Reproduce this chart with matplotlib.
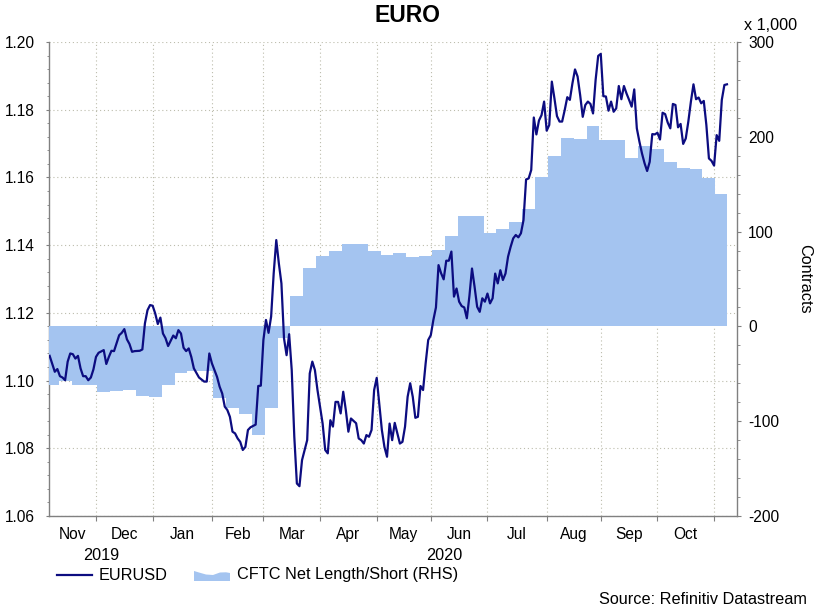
import numpy as np
import matplotlib
matplotlib.use('Agg')
import matplotlib.pyplot as plt
from matplotlib.lines import Line2D
from matplotlib.patches import Polygon

plt.rcParams['font.family'] = ['Liberation Sans', 'DejaVu Sans']
plt.rcParams['axes.unicode_minus'] = False

# EURUSD 日度收盘
eur_dates = [
    '2019-11-06', '2019-11-08', '2019-11-11', '2019-11-12', '2019-11-13', '2019-11-14', '2019-11-15',
    '2019-11-18', '2019-11-19', '2019-11-20', '2019-11-21', '2019-11-22', '2019-11-25', '2019-11-26',
    '2019-11-27', '2019-11-28', '2019-11-29',
    '2019-12-02', '2019-12-03', '2019-12-05', '2019-12-06', '2019-12-09', '2019-12-10', '2019-12-11',
    '2019-12-12', '2019-12-13', '2019-12-16', '2019-12-17', '2019-12-18', '2019-12-19', '2019-12-20',
    '2019-12-23', '2019-12-25', '2019-12-26', '2019-12-27', '2019-12-30', '2019-12-31',
    '2020-01-01', '2020-01-02', '2020-01-03', '2020-01-06', '2020-01-07', '2020-01-08', '2020-01-09',
    '2020-01-13', '2020-01-14', '2020-01-15', '2020-01-16', '2020-01-17', '2020-01-20', '2020-01-21',
    '2020-01-22', '2020-01-23', '2020-01-27', '2020-01-29', '2020-01-30', '2020-01-31',
    '2020-02-03', '2020-02-05', '2020-02-06', '2020-02-07', '2020-02-10', '2020-02-11', '2020-02-12',
    '2020-02-13', '2020-02-14', '2020-02-17', '2020-02-18', '2020-02-19', '2020-02-20', '2020-02-21',
    '2020-02-24', '2020-02-25', '2020-02-26', '2020-02-27', '2020-02-28',
    '2020-03-02', '2020-03-03', '2020-03-04', '2020-03-05', '2020-03-06', '2020-03-09', '2020-03-10',
    '2020-03-11', '2020-03-12', '2020-03-13', '2020-03-16', '2020-03-17', '2020-03-18', '2020-03-19',
    '2020-03-20', '2020-03-23', '2020-03-24', '2020-03-25', '2020-03-26', '2020-03-27', '2020-03-30',
    '2020-03-31',
    '2020-04-02', '2020-04-03', '2020-04-06', '2020-04-07', '2020-04-08', '2020-04-09', '2020-04-10',
    '2020-04-13', '2020-04-14', '2020-04-15', '2020-04-16', '2020-04-17', '2020-04-21', '2020-04-22',
    '2020-04-23', '2020-04-24', '2020-04-27', '2020-04-28', '2020-04-29', '2020-04-30',
    '2020-05-01', '2020-05-04', '2020-05-05', '2020-05-06', '2020-05-07', '2020-05-08', '2020-05-11',
    '2020-05-12', '2020-05-13', '2020-05-14', '2020-05-15', '2020-05-18', '2020-05-19', '2020-05-20',
    '2020-05-21', '2020-05-22', '2020-05-25', '2020-05-26', '2020-05-27', '2020-05-28', '2020-05-29',
    '2020-06-01', '2020-06-02', '2020-06-03', '2020-06-04', '2020-06-05', '2020-06-08', '2020-06-09',
    '2020-06-10', '2020-06-11', '2020-06-12', '2020-06-15', '2020-06-16', '2020-06-17', '2020-06-18',
    '2020-06-19', '2020-06-22', '2020-06-23', '2020-06-24', '2020-06-25', '2020-06-26', '2020-06-29',
    '2020-06-30',
    '2020-07-01', '2020-07-02', '2020-07-03', '2020-07-06', '2020-07-07', '2020-07-08', '2020-07-09',
    '2020-07-10', '2020-07-13', '2020-07-14', '2020-07-15', '2020-07-16', '2020-07-17', '2020-07-20',
    '2020-07-21', '2020-07-22', '2020-07-23', '2020-07-24', '2020-07-27', '2020-07-28', '2020-07-29',
    '2020-07-30', '2020-07-31',
    '2020-08-03', '2020-08-04', '2020-08-05', '2020-08-06', '2020-08-07', '2020-08-10', '2020-08-11',
    '2020-08-12', '2020-08-13', '2020-08-14', '2020-08-17', '2020-08-18', '2020-08-19', '2020-08-20',
    '2020-08-21', '2020-08-24', '2020-08-25', '2020-08-26', '2020-08-27', '2020-08-28', '2020-08-31',
    '2020-09-01', '2020-09-02', '2020-09-03', '2020-09-04', '2020-09-07', '2020-09-08', '2020-09-09',
    '2020-09-10', '2020-09-11', '2020-09-14', '2020-09-15', '2020-09-16', '2020-09-17', '2020-09-18',
    '2020-09-21', '2020-09-22', '2020-09-23', '2020-09-24', '2020-09-25', '2020-09-28', '2020-09-29',
    '2020-09-30',
    '2020-10-01', '2020-10-02', '2020-10-05', '2020-10-06', '2020-10-07', '2020-10-08', '2020-10-09',
    '2020-10-12', '2020-10-13', '2020-10-14', '2020-10-15', '2020-10-16', '2020-10-19', '2020-10-20',
    '2020-10-21', '2020-10-22', '2020-10-23', '2020-10-26', '2020-10-27', '2020-10-28', '2020-10-29',
    '2020-10-30',
    '2020-11-02', '2020-11-03', '2020-11-04', '2020-11-05', '2020-11-06', '2020-11-09',
]
eur_vals = [
    1.1073, 1.1026, 1.1034, 1.1013, 1.1009, 1.1001, 1.1056,
    1.1080, 1.1078, 1.1065, 1.1073, 1.1036, 1.1013, 1.1013,
    1.1001, 1.1009, 1.1033,
    1.1070, 1.1082, 1.1090, 1.1049, 1.1070, 1.1088, 1.1087,
    1.1110, 1.1134, 1.1141, 1.1152, 1.1122, 1.1108, 1.1085,
    1.1087, 1.1088, 1.1092, 1.1169, 1.1208, 1.1223,
    1.1221, 1.1198, 1.1167, 1.1186, 1.1139, 1.1125, 1.1102,
    1.1133, 1.1125, 1.1149, 1.1139, 1.1097, 1.1087, 1.1095,
    1.1070, 1.1036, 1.1009, 1.0997, 1.0997, 1.1080,
    1.1051, 1.1011, 1.0982, 1.0962, 1.0923, 1.0913, 1.0893,
    1.0849, 1.0844, 1.0829, 1.0819, 1.0795, 1.0804, 1.0854,
    1.0862, 1.0866, 1.0870, 1.0984, 1.0985,
    1.1120, 1.1179, 1.1141, 1.1189, 1.1317, 1.1415, 1.1346,
    1.1287, 1.1125, 1.1075, 1.1137, 1.1031, 1.0834, 1.0696,
    1.0688, 1.0765, 1.0795, 1.0824, 1.1021, 1.1056, 1.1031,
    1.0972,
    1.0873, 1.0795, 1.0785, 1.0883, 1.0864, 1.0937, 1.0937,
    1.0903, 1.0967, 1.0913, 1.0849, 1.0888, 1.0874, 1.0829,
    1.0824, 1.0814, 1.0839, 1.0834, 1.0854, 1.0972,
    1.1008, 1.0932, 1.0854, 1.0804, 1.0775, 1.0873, 1.0824,
    1.0875, 1.0844, 1.0814, 1.0819, 1.0864, 1.0952, 1.0992,
    1.0952, 1.0890, 1.0893, 1.0984, 1.0972, 1.1051, 1.1120,
    1.1134, 1.1179, 1.1216, 1.1341, 1.1317, 1.1299, 1.1354,
    1.1354, 1.1381, 1.1248, 1.1272, 1.1233, 1.1220, 1.1216,
    1.1184, 1.1250, 1.1331, 1.1277, 1.1218, 1.1203, 1.1243,
    1.1233,
    1.1257, 1.1228, 1.1243, 1.1316, 1.1287, 1.1326, 1.1297,
    1.1316, 1.1366, 1.1395, 1.1420, 1.1430, 1.1423, 1.1435,
    1.1474, 1.1594, 1.1597, 1.1622, 1.1777, 1.1727, 1.1768,
    1.1784, 1.1824,
    1.1738, 1.1755, 1.1883, 1.1834, 1.1781, 1.1765, 1.1765,
    1.1799, 1.1837, 1.1829, 1.1878, 1.1919, 1.1898, 1.1843,
    1.1779, 1.1814, 1.1824, 1.1817, 1.1789, 1.1888, 1.1959,
    1.1965, 1.1840, 1.1839, 1.1797, 1.1824, 1.1794, 1.1804,
    1.1870, 1.1831, 1.1870, 1.1848, 1.1829, 1.1809, 1.1860,
    1.1745, 1.1706, 1.1671, 1.1642, 1.1619, 1.1646, 1.1728,
    1.1727,
    1.1732, 1.1712, 1.1791, 1.1787, 1.1762, 1.1745, 1.1817,
    1.1814, 1.1748, 1.1758, 1.1699, 1.1715, 1.1765, 1.1824,
    1.1875, 1.1831, 1.1836, 1.1819, 1.1826, 1.1755, 1.1656,
    1.1649,
    1.1635, 1.1725, 1.1708, 1.1829, 1.1873, 1.1875,
]

# CFTC 欧元净多/空头寸(千手,每周二)
cftc_dates = [
    '2019-11-05', '2019-11-12', '2019-11-19', '2019-11-26', '2019-12-03', '2019-12-10', '2019-12-17',
    '2019-12-24', '2019-12-31', '2020-01-07', '2020-01-14', '2020-01-21', '2020-01-28', '2020-02-04',
    '2020-02-11', '2020-02-18', '2020-02-25', '2020-03-03', '2020-03-10', '2020-03-17', '2020-03-24',
    '2020-03-31', '2020-04-07', '2020-04-14', '2020-04-21', '2020-04-28', '2020-05-05', '2020-05-12',
    '2020-05-19', '2020-05-26', '2020-06-02', '2020-06-09', '2020-06-16', '2020-06-23', '2020-06-30',
    '2020-07-07', '2020-07-14', '2020-07-21', '2020-07-28', '2020-08-04', '2020-08-11', '2020-08-18',
    '2020-08-25', '2020-09-01', '2020-09-08', '2020-09-15', '2020-09-22', '2020-09-29', '2020-10-06',
    '2020-10-13', '2020-10-20', '2020-10-27', '2020-11-03',
]
cftc_vals = [
    -61.8, -57.6, -61.8, -61.8, -68.9, -68.2, -67.1,
    -73.1, -74.2, -61.8, -49.5, -47.1, -47.1, -75.2,
    -86.4, -92.8, -114.6, -86.4, -11.9, 31.7, 61.5,
    74.3, 79.9, 86.6, 86.6, 79.9, 75.3, 77.4,
    72.7, 74.3, 80.6, 95.0, 116.4, 116.4, 98.9,
    102.4, 110.3, 124.0, 157.1, 179.7, 198.7, 197.3,
    211.4, 196.6, 196.6, 177.3, 190.4, 186.8, 173.4,
    167.4, 165.8, 156.5, 139.7,
]

month_labels = ['Nov', 'Dec', 'Jan', 'Feb', 'Mar', 'Apr', 'May', 'Jun', 'Jul', 'Aug', 'Sep', 'Oct']

LINE_C = '#0c0c80'
FILL_C = '#a4c4f0'
AXIS_C = '#808080'
GRID_C = '#bcbcac'

W, H = 815, 606
TXT = 11.7   # 图例/注释字号
TICK = 11.2  # 刻度字号


def fx(px):
    return px / W


def fy(py):
    return 1 - py / H


# 横轴按交易日计数(周末不占位置)
base = '2019-12-02'
ex = np.busday_count(base, np.array(eur_dates, dtype='datetime64[D]'))
cx = np.busday_count(base, np.array(cftc_dates, dtype='datetime64[D]')) - 0.5
month_starts = np.arange('2019-12', '2020-12', dtype='datetime64[M]').astype('datetime64[D]')
month_ticks = np.busday_count(base, np.busday_offset(month_starts, 0, roll='forward'))
x_left = np.busday_count(base, '2019-11-06') - 0.25
x_right = np.busday_count(base, '2020-11-12') + 0.9
bounds = np.concatenate([[x_left], month_ticks])
label_pos = (bounds[:-1] + bounds[1:]) / 2

fig = plt.figure(figsize=(W / 100, H / 100), dpi=100)
pos = [fx(49), fy(516), fx(737) - fx(49), fy(42) - fy(516)]
ax1 = fig.add_axes(pos)
ax2 = ax1.twinx()
ax3 = fig.add_axes(pos, sharex=ax1, sharey=ax1)
ax3.axis('off')

# 阶梯面积图(右轴)
sx = np.append(cx, ex[-1])
sy = np.append(cftc_vals, cftc_vals[-1])
ax2.fill_between(sx, 0, sy, step='post', color=FILL_C, linewidth=0)
ax2.set_ylim(-200, 300)
ax2.set_yticks(np.arange(-200, 301, 100))
ax2.set_yticks(np.arange(-200, 301, 20), minor=True)

# 汇率折线(左轴,画在最上层)
ax3.plot(ex, eur_vals, color=LINE_C, linewidth=1.6, solid_joinstyle='round')

ax1.set_xlim(x_left, x_right)
ax1.set_ylim(1.06, 1.20)
ax1.set_yticks(np.arange(1.06, 1.2001, 0.02))
ax1.set_yticks(np.arange(1.06, 1.2001, 0.004), minor=True)
ax1.yaxis.set_major_formatter(plt.FuncFormatter(lambda v, p: f'{v:.2f}'))
ax1.set_xticks(month_ticks)
ax1.set_xticklabels([])
ax1.set_xticks(label_pos, minor=True)
ax1.set_xticklabels(month_labels, minor=True)

ax1.grid(which='major', color=GRID_C, linestyle=(0, (1, 2.5)), linewidth=0.8)

for ax in (ax1, ax2):
    for s in ax.spines.values():
        s.set_color(AXIS_C)
        s.set_linewidth(1.0)
    ax.spines['top'].set_visible(False)
ax1.spines['right'].set_visible(False)
ax2.spines['left'].set_visible(False)
ax2.spines['bottom'].set_visible(False)

ax1.tick_params(axis='y', which='major', direction='out', length=2.5, color=AXIS_C,
                labelsize=TICK, pad=7.5)
ax1.tick_params(axis='y', which='minor', direction='out', length=1.5, color=AXIS_C)
ax1.tick_params(axis='x', which='major', direction='out', length=3.5, color=AXIS_C)
ax1.tick_params(axis='x', which='minor', length=0, labelsize=TICK, pad=8)
ax2.tick_params(axis='y', which='major', direction='out', length=3, color=AXIS_C,
                labelsize=TICK, pad=5)
ax2.tick_params(axis='y', which='minor', direction='out', length=2, color=AXIS_C)

# 标题与注释文字
fig.text(fx(407.5), fy(15), 'EURO', ha='center', va='center', fontsize=16.5, fontweight='bold')
fig.text(fx(744), fy(25.5), 'x 1,000', ha='left', va='center', fontsize=TXT)
fig.text(fx(805), fy(279), 'Contracts', ha='center', va='center', fontsize=TXT, rotation=270)
fig.text(fx(101), fy(556), '2019', ha='center', va='center', fontsize=TXT)
fig.text(fx(444), fy(556), '2020', ha='center', va='center', fontsize=TXT)
fig.text(fx(807), fy(599), 'Source: Refinitiv Datastream', ha='right', va='center', fontsize=TXT)

# 图例(手工绘制)
fig.add_artist(Line2D([fx(57), fx(92)], [fy(574.5), fy(574.5)], color=LINE_C, linewidth=1.6,
                      transform=fig.transFigure))
fig.text(fx(99), fy(575), 'EURUSD', ha='left', va='center', fontsize=TXT)
patch_pts = [(194, 571), (199, 572.5), (206, 574.5), (213, 575), (220, 572.5), (226, 572.3),
             (230, 573), (230, 581), (194, 581)]
fig.add_artist(Polygon([(fx(a), fy(b)) for a, b in patch_pts], closed=True, facecolor=FILL_C,
                       edgecolor='none', transform=fig.transFigure))
fig.text(fx(237), fy(575), 'CFTC Net Length/Short (RHS)', ha='left', va='center', fontsize=TXT)

fig.savefig('out.png', dpi=100)
